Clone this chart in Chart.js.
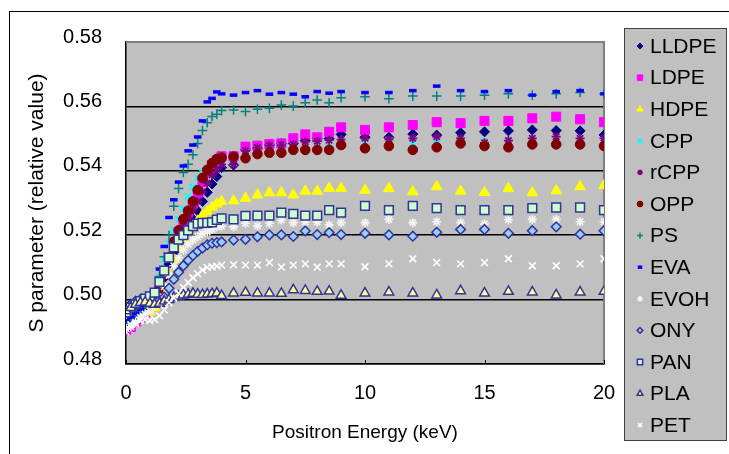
<!DOCTYPE html>
<html>
<head>
<meta charset="utf-8">
<script src="https://cdn.jsdelivr.net/npm/chart.js@4.4.1/dist/chart.umd.min.js"></script>
<style>
  html, body { margin: 0; padding: 0; background: #fff; }
  #wrap { position: relative; width: 729px; height: 454px; overflow: hidden; }
  #frame { position: absolute; left: 9px; top: 11px; width: 760px; height: 480px; border: 1px solid #000; }
  #chart { position: absolute; left: 0; top: 0; }
</style>
</head>
<body>
<div id="wrap">
  <div id="frame"></div>
  <canvas id="chart" width="729" height="454"></canvas>
</div>
<script>
// positron energy (keV) - dense up to 4, then 0.5 steps to 9, then 1 keV steps
const energy = [0, 0.2, 0.4, 0.6, 0.8, 1.0, 1.2, 1.4, 1.6, 1.8, 2.0, 2.2, 2.4, 2.6, 2.8, 3.0, 3.2, 3.4, 3.6, 3.8, 4.0,
  4.5, 5, 5.5, 6, 6.5, 7, 7.5, 8, 8.5, 9,
  10, 11, 12, 13, 14, 15, 16, 17, 18, 19, 20];

const lldpe = [0.4925, 0.4930, 0.4945, 0.4960, 0.4975, 0.4990, 0.5005, 0.5030, 0.5068, 0.5110, 0.5145, 0.5178, 0.5205, 0.5228, 0.5250, 0.5275, 0.5305, 0.5333, 0.5359, 0.5382, 0.5410,
  0.5418, 0.5465, 0.5470, 0.5480, 0.5485, 0.5485, 0.5494, 0.5501, 0.5500, 0.5513,
  0.5504, 0.5504, 0.5514, 0.5511, 0.5518, 0.5521, 0.5524, 0.5527, 0.5525, 0.5524, 0.5511];
const ldpe = [0.4905, 0.4915, 0.4930, 0.4945, 0.4960, 0.4978, 0.5000, 0.5035, 0.5080, 0.5130, 0.5175, 0.5210, 0.5240, 0.5270, 0.5298, 0.5330, 0.5365, 0.5395, 0.5418, 0.5432, 0.5445,
  0.5445, 0.5475, 0.5478, 0.5483, 0.5485, 0.5501, 0.5513, 0.5504, 0.5521, 0.5535,
  0.5527, 0.5535, 0.5542, 0.5551, 0.5548, 0.5555, 0.5555, 0.5563, 0.5568, 0.5560, 0.5551];
const hdpe = [0.4938, 0.4948, 0.4960, 0.4968, 0.4965, 0.4962, 0.4975, 0.5005, 0.5035, 0.5080, 0.5125, 0.5160, 0.5190, 0.5210, 0.5228, 0.5244, 0.5262, 0.5273, 0.5287, 0.5297, 0.5305,
  0.5307, 0.5315, 0.5325, 0.5332, 0.5332, 0.5325, 0.5337, 0.5337, 0.5346, 0.5346,
  0.5340, 0.5345, 0.5335, 0.5351, 0.5337, 0.5333, 0.5345, 0.5332, 0.5338, 0.5351, 0.5354];
const cpp = [0.4918, 0.4928, 0.4945, 0.4960, 0.4978, 0.4995, 0.5025, 0.5070, 0.5125, 0.5175, 0.5215, 0.5250, 0.5282, 0.5320, 0.5350, 0.5378, 0.5395, 0.5405, 0.5415, 0.5422, 0.5428,
  0.5425, 0.5455, 0.5465, 0.5470, 0.5475, 0.5475, 0.5480, 0.5480, 0.5485, 0.5490,
  0.5487, 0.5496, 0.5485, 0.5498, 0.5494, 0.5490, 0.5494, 0.5492, 0.5494, 0.5490, 0.5492];
const rcpp = [0.4920, 0.4928, 0.4940, 0.4955, 0.4970, 0.4985, 0.5005, 0.5040, 0.5085, 0.5130, 0.5168, 0.5200, 0.5228, 0.5255, 0.5280, 0.5305, 0.5335, 0.5362, 0.5387, 0.5405, 0.5420,
  0.5420, 0.5462, 0.5472, 0.5478, 0.5480, 0.5482, 0.5490, 0.5492, 0.5495, 0.5497,
  0.5501, 0.5498, 0.5501, 0.5506, 0.5501, 0.5487, 0.5494, 0.5501, 0.5506, 0.5501, 0.5501];
const opp = [0.4915, 0.4925, 0.4940, 0.4955, 0.4970, 0.4985, 0.5005, 0.5035, 0.5080, 0.5130, 0.5180, 0.5215, 0.5250, 0.5276, 0.5305, 0.5340, 0.5378, 0.5403, 0.5424, 0.5437, 0.5441,
  0.5444, 0.5439, 0.5452, 0.5456, 0.5456, 0.5465, 0.5465, 0.5465, 0.5465, 0.5480,
  0.5470, 0.5477, 0.5465, 0.5473, 0.5485, 0.5477, 0.5473, 0.5482, 0.5482, 0.5482, 0.5477];
const ps = [0.4925, 0.4935, 0.4948, 0.4962, 0.4975, 0.4990, 0.5020, 0.5072, 0.5133, 0.5200, 0.5290, 0.5345, 0.5395, 0.5420, 0.5450, 0.5485, 0.5525, 0.5549, 0.5569, 0.5576, 0.5587,
  0.5589, 0.5584, 0.5591, 0.5594, 0.5604, 0.5601, 0.5611, 0.5620, 0.5611, 0.5627,
  0.5630, 0.5624, 0.5632, 0.5632, 0.5632, 0.5635, 0.5639, 0.5635, 0.5639, 0.5643, 0.5639];
const eva = [0.4935, 0.4945, 0.4958, 0.4970, 0.4982, 0.4995, 0.5030, 0.5095, 0.5165, 0.5255, 0.5310, 0.5365, 0.5415, 0.5462, 0.5480, 0.5505, 0.5555, 0.5614, 0.5625, 0.5645, 0.5639,
  0.5635, 0.5643, 0.5649, 0.5638, 0.5643, 0.5638, 0.5630, 0.5646, 0.5641, 0.5646,
  0.5643, 0.5643, 0.5649, 0.5663, 0.5649, 0.5646, 0.5649, 0.5635, 0.5646, 0.5649, 0.5639];
const evoh = [0.4910, 0.4915, 0.4930, 0.4945, 0.4955, 0.4965, 0.4980, 0.5005, 0.5040, 0.5075, 0.5105, 0.5130, 0.5155, 0.5172, 0.5185, 0.5195, 0.5205, 0.5210, 0.5218, 0.5226, 0.5228,
  0.5226, 0.5237, 0.5229, 0.5237, 0.5247, 0.5239, 0.5241, 0.5241, 0.5232, 0.5239,
  0.5239, 0.5249, 0.5239, 0.5242, 0.5239, 0.5235, 0.5248, 0.5249, 0.5249, 0.5242, 0.5242];
const ony = [0.4970, 0.4985, 0.4995, 0.5000, 0.4995, 0.4993, 0.4995, 0.4998, 0.5008, 0.5035, 0.5063, 0.5085, 0.5105, 0.5122, 0.5137, 0.5150, 0.5160, 0.5170, 0.5175, 0.5177, 0.5179,
  0.5185, 0.5187, 0.5195, 0.5201, 0.5201, 0.5196, 0.5213, 0.5202, 0.5208, 0.5202,
  0.5206, 0.5201, 0.5197, 0.5209, 0.5218, 0.5218, 0.5206, 0.5214, 0.5226, 0.5203, 0.5214];
const pan = [0.4960, 0.4975, 0.4985, 0.4995, 0.5003, 0.5010, 0.5022, 0.5055, 0.5090, 0.5130, 0.5162, 0.5186, 0.5200, 0.5215, 0.5228, 0.5236, 0.5238, 0.5238, 0.5240, 0.5248, 0.5252,
  0.5249, 0.5260, 0.5261, 0.5261, 0.5270, 0.5266, 0.5261, 0.5261, 0.5278, 0.5270,
  0.5291, 0.5278, 0.5291, 0.5284, 0.5278, 0.5278, 0.5278, 0.5284, 0.5286, 0.5286, 0.5278];
const pla = [0.4965, 0.4975, 0.4985, 0.4990, 0.4992, 0.4988, 0.4985, 0.4988, 0.4995, 0.5000, 0.5006, 0.5010, 0.5014, 0.5016, 0.5019, 0.5016, 0.5015, 0.5017, 0.5018, 0.5020, 0.5012,
  0.5020, 0.5022, 0.5020, 0.5020, 0.5019, 0.5030, 0.5028, 0.5025, 0.5026, 0.5013,
  0.5020, 0.5023, 0.5020, 0.5014, 0.5027, 0.5020, 0.5025, 0.5023, 0.5014, 0.5023, 0.5025];
const pet = [0.4900, 0.4922, 0.4925, 0.4935, 0.4938, 0.4935, 0.4938, 0.4950, 0.4968, 0.4990, 0.5005, 0.5020, 0.5038, 0.5053, 0.5068, 0.5080, 0.5092, 0.5100, 0.5102, 0.5104, 0.5107,
  0.5108, 0.5107, 0.5107, 0.5115, 0.5101, 0.5107, 0.5111, 0.5101, 0.5111, 0.5111,
  0.5102, 0.5111, 0.5127, 0.5115, 0.5111, 0.5115, 0.5127, 0.5105, 0.5105, 0.5111, 0.5127];

const yTicks = [0.48, 0.50, 0.52, 0.54, 0.56, 0.58];
const xTicks = [0, 5, 10, 15, 20];

const FONT = '"Liberation Sans", Arial, sans-serif';

// name, values, point style, fill, border, radius, border width
const series = [
  ['LLDPE', lldpe, 'rectRot', '#000080', '#000080', 5, 1],
  ['LDPE', ldpe, 'rect', '#ff00ff', '#ff00ff', 6.4, 1],
  ['HDPE', hdpe, 'triangle', '#ffff00', '#ffff00', 6.2, 1],
  ['CPP', cpp, 'crossRot', '#00ffff', '#00ffff', 4.5, 2],
  ['rCPP', rcpp, 'star', '#800080', '#800080', 4.5, 1.8],
  ['OPP', opp, 'circle', '#800000', '#800000', 4.8, 1],
  ['PS', ps, 'cross', '#008080', '#008080', 4.8, 1.5],
  ['EVA', eva, 'line', '#0000ff', '#0000ff', 3.8, 3.5],
  ['EVOH', evoh, 'star', '#f4f4f4', '#f4f4f4', 4.5, 1.6],
  ['ONY', ony, 'rectRot', '#99ccff', '#333399', 4.8, 1.5],
  ['PAN', pan, 'rect', '#ccffcc', '#333399', 6.2, 1.5],
  ['PLA', pla, 'triangle', '#ffff99', '#333399', 5.6, 1.5],
  ['PET', pet, 'crossRot', '#ffffff', '#ffffff', 4.8, 1.6]
];

const datasets = series.map((s, i) => ({
  label: s[0],
  data: energy.map((e, k) => ({x: e, y: s[1][k]})),
  pointStyle: s[2],
  pointBackgroundColor: s[3],
  pointBorderColor: s[4],
  pointRadius: s[5],
  pointBorderWidth: s[6],
  showLine: false,
  order: series.length - i   // later series drawn on top, like the original
}));

// grey plot area plus the grey frame on top / right
const plotArea = {
  id: 'plotArea',
  beforeDraw(chart) {
    const {ctx, chartArea: a} = chart;
    ctx.save();
    ctx.fillStyle = '#c0c0c0';
    ctx.fillRect(a.left, a.top, a.right - a.left, a.bottom - a.top);
    ctx.restore();
  },
  beforeDatasetsDraw(chart) {
    const {ctx, chartArea: a} = chart;
    ctx.save();
    ctx.strokeStyle = '#808080';
    ctx.lineWidth = 2;
    ctx.beginPath();
    ctx.moveTo(a.left, a.top);
    ctx.lineTo(a.right, a.top);
    ctx.lineTo(a.right, a.bottom);
    ctx.stroke();
    // small inside tick marks on the x axis
    const xs = chart.scales.x;
    ctx.strokeStyle = '#000';
    ctx.lineWidth = 1;
    xTicks.forEach(v => {
      const px = Math.round(xs.getPixelForValue(v)) + 0.5;
      ctx.beginPath();
      ctx.moveTo(px, a.bottom);
      ctx.lineTo(px, a.bottom - 4);
      ctx.stroke();
    });
    ctx.restore();
  }
};

// boxed legend on the right
const legendBox = {
  id: 'legendBox',
  afterDraw(chart) {
    const ctx = chart.ctx;
    const left = 624, top = 28, w = 102, h = 412;
    ctx.save();
    ctx.fillStyle = '#c0c0c0';
    ctx.fillRect(left, top, w, h);
    ctx.strokeStyle = '#404040';
    ctx.lineWidth = 1;
    ctx.strokeRect(left + 0.5, top + 0.5, w, h);
    series.forEach((s, i) => {
      const y = top + 18 + i * 31.6;
      ctx.fillStyle = s[3];
      ctx.strokeStyle = s[4];
      ctx.lineWidth = s[6];
      Chart.helpers.drawPoint(ctx, {pointStyle: s[2], radius: s[5] * 0.6, borderWidth: s[6], rotation: 0}, left + 16, y);
      ctx.fillStyle = '#000';
      ctx.font = '21px ' + FONT;
      ctx.textBaseline = 'middle';
      ctx.textAlign = 'left';
      ctx.fillText(s[0], left + 26, y + 1);
    });
    ctx.restore();
  }
};

new Chart(document.getElementById('chart'), {
  type: 'scatter',
  data: {datasets},
  plugins: [plotArea, legendBox],
  options: {
    responsive: false,
    animation: false,
    layout: {padding: {top: 42, right: 125, left: 10, bottom: 0}},
    plugins: {legend: {display: false}, tooltip: {enabled: false}},
    scales: {
      x: {
        type: 'linear',
        min: 0, max: 20,
        afterBuildTicks: sc => { sc.ticks = xTicks.map(v => ({value: v})); },
        afterFit: sc => { sc.height = 90; },
        ticks: {color: '#000', font: {family: FONT, size: 20}, padding: 17},
        grid: {display: false, drawTicks: false},
        border: {color: '#000', width: 1.5},
        title: {display: true, text: 'Positron Energy (keV)', color: '#000', font: {family: FONT, size: 19}, padding: {bottom: 10}}
      },
      y: {
        min: 0.48, max: 0.58,
        afterBuildTicks: sc => { sc.ticks = yTicks.map(v => ({value: v})); },
        afterFit: sc => { sc.width = 116; },
        ticks: {color: '#000', font: {family: FONT, size: 20}, padding: 24, labelOffset: -5,
          callback: v => v.toFixed(2)},
        grid: {color: c => (c.tick && c.tick.value === 0.58) ? 'rgba(0,0,0,0)' : '#000', lineWidth: 1.5, drawTicks: false},
        border: {color: '#000', width: 1.5},
        title: {display: true, text: 'S parameter (relative value)', color: '#000', font: {family: FONT, size: 21}, padding: {top: 15}}
      }
    }
  }
});
</script>
</body>
</html>
